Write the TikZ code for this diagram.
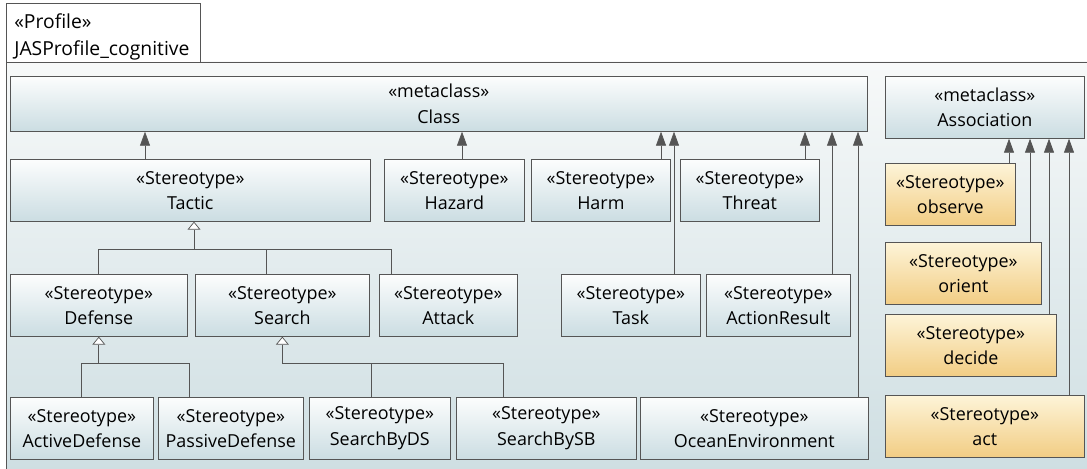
\documentclass[tikz,border=0pt]{standalone}
\usepackage{fontspec}
\setmainfont{Open Sans}
\usepackage{xcolor}
\usepackage{tikz}
\usetikzlibrary{positioning,arrows.meta}
\definecolor{boxline}{RGB}{85,85,85}
\definecolor{boxtop}{RGB}{252,253,253}
\definecolor{boxbot}{RGB}{203,221,226}
\definecolor{ortop}{RGB}{253,244,216}
\definecolor{orbot}{RGB}{242,205,132}
\definecolor{frametop}{RGB}{247,249,249}
\definecolor{framebot}{RGB}{206,222,226}

\begin{document}
\begin{tikzpicture}[x=0.02cm, y=-0.02cm,
        box/.style={rectangle, draw=boxline, top color=boxtop, bottom color=boxbot,
                   anchor=north west, align=center, inner sep=0pt,
                   minimum height=1.24cm, font=\fontsize{10.2}{14.5}\selectfont},
        obox/.style={box, top color=ortop, bottom color=orbot},
        arrow/.style={-{Triangle[length=0.28cm, width=0.2cm]}, draw=boxline, fill=black},
        gen/.style={-{Triangle[open, length=0.16cm, width=0.26cm, fill=white]}, boxline},
        line/.style={draw=boxline}
    ]
        \useasboundingbox (0,0) rectangle (1087,469);
        % profile frame and tab
        \shade[top color=frametop, bottom color=framebot, draw=boxline] (6,62) rectangle (1092,474);
        \draw[boxline, fill=white] (6,3) rectangle (200,62);
        \node[anchor=west, align=left, inner sep=0pt,
              font=\fontsize{11}{15.5}\selectfont] (prof) at (14,37) {«Profile»\\JASProfile\_cognitive};

        \node[box, minimum width=17.14cm, minimum height=1.1cm] (cls) at (10,76) {«metaclass»\\Class};
        \node[box, minimum width=3.98cm] (asc) at (885,76) {«metaclass»\\Association};

        \node[box, minimum width=7.2cm] (tac) at (10,159) {«Stereotype»\\Tactic};
        \node[box, minimum width=2.8cm] (haz) at (384,159) {«Stereotype»\\Hazard};
        \node[box, minimum width=2.78cm] (hrm) at (531,159) {«Stereotype»\\Harm};
        \node[box, minimum width=2.78cm] (thr) at (680,159) {«Stereotype»\\Threat};

        \node[box, minimum width=3.54cm] (def) at (10,274) {«Stereotype»\\Defense};
        \node[box, minimum width=3.48cm] (sea) at (195,274) {«Stereotype»\\Search};
        \node[box, minimum width=2.76cm] (att) at (379,274) {«Stereotype»\\Attack};
        \node[box, minimum width=2.78cm] (tsk) at (561,274) {«Stereotype»\\Task};
        \node[box, minimum width=2.88cm] (actres) at (706,274) {«Stereotype»\\ActionResult};

        \node[box, minimum width=2.86cm] (adef) at (10,397) {«Stereotype»\\ActiveDefense};
        \node[box, minimum width=2.9cm] (pdef) at (158,397) {«Stereotype»\\PassiveDefense};
        \node[box, minimum width=2.82cm] (sds) at (309,397) {«Stereotype»\\SearchByDS};
        \node[box, minimum width=3.6cm] (ssb) at (456,397) {«Stereotype»\\SearchBySB};
        \node[box, minimum width=4.56cm] (ocn) at (640,397) {«Stereotype»\\OceanEnvironment};

        \node[obox, minimum width=2.6cm] (obs) at (885,163) {«Stereotype»\\observe};
        \node[obox, minimum width=3.12cm] (ori) at (885,242) {«Stereotype»\\orient};
        \node[obox, minimum width=3.42cm] (dec) at (885,314) {«Stereotype»\\decide};
        \node[obox, minimum width=3.98cm] (actn) at (885,395) {«Stereotype»\\act};

        % extensions
        \draw[arrow] (145,0 |- tac.north) -- (145,0 |- cls.south);
        \draw[arrow] (462,0 |- haz.north) -- (462,0 |- cls.south);
        \draw[arrow] (661,0 |- hrm.north) -- (661,0 |- cls.south);
        \draw[arrow] (674,0 |- tsk.north) -- (674,0 |- cls.south);
        \draw[arrow] (805,0 |- thr.north) -- (805,0 |- cls.south);
        \draw[arrow] (832,0 |- actres.north) -- (832,0 |- cls.south);
        \draw[arrow] (858,0 |- ocn.north) -- (858,0 |- cls.south);

        \draw[arrow] (1009,0 |- obs.north) -- (1009,0 |- asc.south);
        \draw[arrow] (1030,0 |- ori.north) -- (1030,0 |- asc.south);
        \draw[arrow] (1049,0 |- dec.north) -- (1049,0 |- asc.south);
        \draw[arrow] (1069,0 |- actn.north) -- (1069,0 |- asc.south);

        % generalizations
        \coordinate (tacj) at (194,249);
        \draw[line] (def.north) |- (tacj);
        \draw[line] (391,0 |- att.north) |- (tacj);
        \draw[line] (266,0 |- sea.north) -- (266,0 |- tacj);
        \draw[gen] (tacj) -- (tacj |- tac.south);

        \coordinate (defj) at (def.south |- 0,363);
        \draw[line] (adef.north) |- (defj);
        \draw[line] (189,0 |- pdef.north) |- (defj);
        \draw[gen] (defj) -- (def.south);

        \coordinate (seaj) at (sea.south |- 0,363);
        \draw[line] (503,0 |- ssb.north) |- (seaj);
        \draw[line] (371,0 |- sds.north) -- (371,0 |- seaj);
        \draw[gen] (seaj) -- (sea.south);
    \end{tikzpicture}
\end{document}
